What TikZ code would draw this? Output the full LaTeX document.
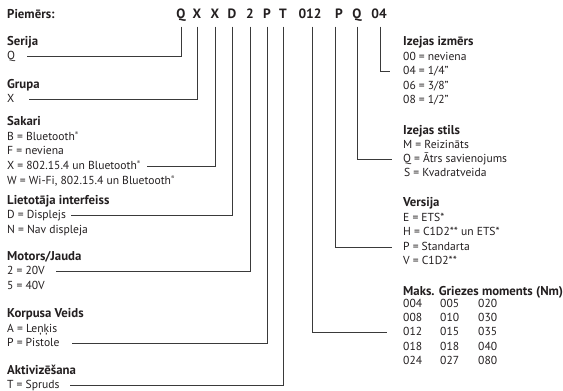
\documentclass[tikz,border=0pt]{standalone}
\usepackage{fontspec}
\setmainfont{PT Sans}
\definecolor{ink}{HTML}{231F20}
\definecolor{rule}{HTML}{3A3A3A}
\newcommand{\regmark}{\textsuperscript{\tiny®}}

\begin{document}
\begin{tikzpicture}[x=1pt,y=-1pt,
  font=\fontsize{11.6}{13}\selectfont, text=ink,
  code/.style={font=\fontsize{13.5}{15}\selectfont\bfseries, inner sep=0pt,
               text height=9pt, text depth=0pt},
  head/.style={font=\fontsize{12.8}{14}\selectfont\bfseries, anchor=west,
               inner sep=0pt, text height=8pt, text depth=2pt},
  opt/.style={anchor=west, inner sep=0pt, text height=8pt, text depth=2pt},
  link/.style={draw=rule, line width=0.9pt, shorten <=8pt}]

\path[use as bounding box] (0,0) rectangle (563,391);

% ------------------------------------------------------------------ code row
\node[head] (ex) at (7,15) {Piemērs:};
\foreach \ch/\x/\n in {Q/181/cSer, X/197/cGrp, X/215/cCon, D/232/cUi,
                       2/250/cMot, P/267/cBody, T/283/cTrig, 012/310/cTorq,
                       P/339/cVer, Q/357/cStyle, 04/379/cSize}
  \node[code] (\n) at (\x,14) {\ch};

% ------------------------------------------------------------------ left column
\node[head] (hSer) at (7,42) {Serija};
\node[opt] (oSerQ) at (7,56) {Q};

\node[head] (hGrp) at (7,85) {Grupa};
\node[opt] (oGrpX) at (7,99) {X};

\node[head] (hCon) at (7,122) {Sakari};
\node[opt] (oConB) at (7,137) {B = Bluetooth\regmark};
\node[opt] (oConF) at (7,151) {F = neviena};
\node[opt] (oConX) at (7,166) {X = 802.15.4 un Bluetooth\regmark};
\node[opt] (oConW) at (7,181) {W = Wi-Fi, 802.15.4 un Bluetooth\regmark};

\node[head] (hUi) at (7,201) {Lietotāja interfeiss};
\node[opt] (oUiD) at (7,215) {D = Displejs};
\node[opt] (oUiN) at (7,230) {N = Nav displeja};

\node[head] (hMot) at (7,257) {Motors/Jauda};
\node[opt] (oMot2) at (7,271) {2 = 20V};
\node[opt] (oMot5) at (7,286) {5 = 40V};

\node[head] (hBody) at (7,314) {Korpusa Veids};
\node[opt] (oBodyA) at (7,329) {A = Leņķis};
\node[opt] (oBodyP) at (7,343) {P = Pistole};

\node[head] (hTrig) at (7,371) {Aktivizēšana};
\node[opt] (oTrigT) at (7,385) {T = Spruds};

% ------------------------------------------------------------------ right column
\node[head] (hSize) at (403,42) {Izejas izmērs};
\node[opt] (oSize00) at (403,57) {00 = neviena};
\node[opt] (oSize04) at (403,71) {04 = 1/4"};
\node[opt] (oSize06) at (403,86) {06 = 3/8"};
\node[opt] (oSize08) at (403,100) {08 = 1/2"};

\node[head] (hStyle) at (403,131) {Izejas stils};
\node[opt] (oStyleM) at (403,145) {M = Reizināts};
\node[opt] (oStyleQ) at (403,159) {Q = Ātrs savienojums};
\node[opt] (oStyleS) at (404,173) {S = Kvadratveida};

\node[head] (hVer) at (403,203) {Versija};
\node[opt] (oVerE) at (403,218) {E = ETS*};
\node[opt] (oVerH) at (403,232) {H = C1D2** un ETS*};
\node[opt] (oVerP) at (403,247) {P = Standarta};
\node[opt] (oVerV) at (403,261) {V = C1D2**};

\node[head] (hTorq) at (403,292) {Maks. Griezes moments (Nm)};
\foreach \a/\b/\c [count=\i] in {004/005/020, 008/010/030, 012/015/035,
                                 018/018/040, 024/027/080} {
  \node[opt] (t\i a) at (403,290+14.3*\i) {\a};
  \node[opt] (t\i b) at (440,290+14.3*\i) {\b};
  \node[opt] (t\i c) at (478,290+14.3*\i) {\c};
}

% ------------------------------------------------------------------ leaders
\draw[link, shorten >=12pt] (cSer.south) |- (oSerQ.east);
\draw[link, shorten >=14pt] (cGrp.south) |- (oGrpX.east);
\draw[link, shorten >=6pt] (cCon.south) |- (oConX.east);
\draw[link, shorten >=5pt] (cUi.south) |- (oUiD.east);
\draw[link, shorten >=11pt] (cMot.south) |- (oMot2.east);
\draw[link, shorten >=12pt] (cBody.south) |- (oBodyP.east);
\draw[link, shorten >=10pt] (cTrig.south) |- (oTrigT.east);
\draw[link, shorten >=16pt] ([xshift=2pt]cTorq.south) |- (t3a.west);
\draw[link, shorten >=11pt] ([xshift=-4pt]cVer.south) |- (oVerP.west);
\draw[link, shorten >=11pt] (cStyle.south) |- (oStyleQ.west);
\draw[link, shorten >=13pt] ([xshift=1pt]cSize.south) |- (oSize04.west);
\end{tikzpicture}
\end{document}
